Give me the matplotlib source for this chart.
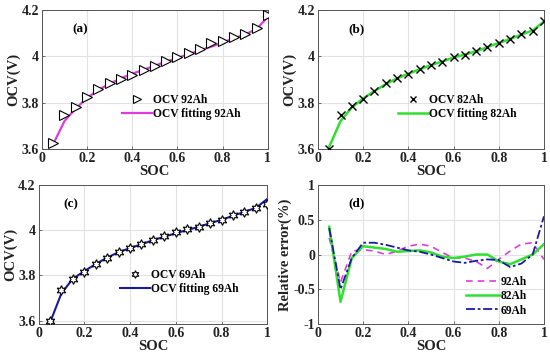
"""
OCV vs SOC for three battery capacities, plus relative fitting error
"""

import matplotlib
matplotlib.use("Agg")
import matplotlib.pyplot as plt

plt.rcParams["font.family"] = ["Liberation Serif", "DejaVu Serif"]
plt.rcParams["font.weight"] = "bold"

soc = [0.05, 0.10, 0.15, 0.20, 0.25, 0.30, 0.35, 0.40, 0.45, 0.50,
       0.55, 0.60, 0.65, 0.70, 0.75, 0.80, 0.85, 0.90, 0.95, 1.00]

ocv_92 = [3.624, 3.747, 3.783, 3.826, 3.858, 3.883, 3.902, 3.921, 3.941, 3.958,
          3.980, 3.996, 4.016, 4.032, 4.056, 4.068, 4.082, 4.096, 4.121, 4.178]
fit_92 = [3.620, 3.720, 3.775, 3.820, 3.855, 3.882, 3.905, 3.925, 3.942, 3.960,
          3.977, 3.993, 4.010, 4.026, 4.042, 4.060, 4.078, 4.095, 4.118, 4.170]

ocv_82 = [3.600, 3.747, 3.786, 3.816, 3.852, 3.883, 3.906, 3.924, 3.944, 3.963,
          3.977, 3.996, 4.006, 4.023, 4.039, 4.059, 4.075, 4.095, 4.111, 4.154]
fit_82 = [3.610, 3.720, 3.780, 3.818, 3.850, 3.880, 3.905, 3.925, 3.944, 3.962,
          3.978, 3.995, 4.008, 4.022, 4.040, 4.058, 4.075, 4.094, 4.112, 4.150]

ocv_69 = [3.597, 3.737, 3.784, 3.816, 3.850, 3.876, 3.904, 3.921, 3.938, 3.957,
          3.972, 3.990, 4.004, 4.012, 4.029, 4.046, 4.066, 4.081, 4.096, 4.115]
fit_69 = [3.590, 3.720, 3.785, 3.818, 3.850, 3.878, 3.902, 3.920, 3.937, 3.955,
          3.970, 3.986, 4.000, 4.014, 4.030, 4.045, 4.063, 4.080, 4.098, 4.137]

err_92 = [0.24, -0.40, 0.05, 0.07, 0.05, 0.00, 0.05, 0.12, 0.15, 0.12,
          0.03, -0.05, -0.05, -0.10, -0.20, -0.07, 0.05, 0.15, 0.17, -0.07]
err_82 = [0.40, -0.68, -0.05, 0.12, 0.10, 0.08, 0.04, 0.05, 0.06, 0.03,
          -0.03, -0.05, -0.03, 0.00, 0.00, -0.10, -0.14, -0.07, 0.00, 0.15]
err_69 = [0.38, -0.50, -0.05, 0.17, 0.17, 0.14, 0.10, 0.06, 0.04, 0.00,
          -0.05, -0.10, -0.12, -0.09, -0.07, -0.08, -0.18, -0.13, 0.00, 0.55]

MAGENTA = "#dd3ddd"
GREEN = "#2fe02f"
NAVY = "#1a1a9e"

fig = plt.figure(figsize=(5.5, 3.59), dpi=100)
ax_a = fig.add_axes([0.076, 0.585, 0.411, 0.387])
ax_b = fig.add_axes([0.578, 0.585, 0.411, 0.387])
ax_c = fig.add_axes([0.070, 0.0975, 0.416, 0.388])
ax_d = fig.add_axes([0.578, 0.0975, 0.411, 0.387])

LEG = {"weight": "bold", "size": 8.3}


def style(ax, ylim, yticks, yticklabels, ylabel):
    ax.set_xlim(0, 1)
    ax.set_ylim(*ylim)
    ax.set_xticks([0, 0.2, 0.4, 0.6, 0.8, 1])
    ax.set_xticklabels(["0", "0.2", "0.4", "0.6", "0.8", "1"])
    ax.set_yticks(yticks)
    ax.set_yticklabels(yticklabels)
    ax.grid(True, color="#e2e2e2", linewidth=0.8)
    ax.set_axisbelow(True)
    ax.tick_params(direction="in", length=2.5, width=0.6, labelsize=10, pad=2,
                   color="#555555", labelcolor="#222222")
    for sp in ax.spines.values():
        sp.set_linewidth(0.7)
        sp.set_color("#555555")
    ax.set_xlabel("SOC", fontsize=10.5, fontweight="bold", labelpad=0,
                  color="#222222")
    ax.set_ylabel(ylabel, fontsize=10.5, fontweight="bold", labelpad=1,
                  color="#222222")


ocv_ticks = [3.6, 3.8, 4.0, 4.2]
ocv_labels = ["3.6", "3.8", "4", "4.2"]

# (a)
ax_a.plot(soc, fit_92, color=MAGENTA, lw=1.6, zorder=2)
ax_a.plot(soc, ocv_92, ">", ms=6.5, mfc="white", mec="black", mew=0.8,
          linestyle="none", zorder=3)
style(ax_a, (3.6, 4.2), ocv_ticks, ocv_labels, "OCV(V)")
ax_a.text(0.17, 0.86, "(a)", transform=ax_a.transAxes, fontsize=9.5,
          fontweight="bold", ha="center", va="center")
ha, = ax_a.plot([], [], ">", ms=5.5, mfc="white", mec="black", mew=0.8, linestyle="none")
hl, = ax_a.plot([], [], color=MAGENTA, lw=1.6)
ax_a.legend([ha, hl], ["OCV 92Ah", "OCV fitting 92Ah"], loc="center left",
            bbox_to_anchor=(0.33, 0.30), frameon=False,
            handlelength=2.6, handletextpad=0.1, labelspacing=0.15, borderpad=0,
            prop=LEG)

# (b)
ax_b.plot(soc, fit_82, color=GREEN, lw=1.8, zorder=2)
ax_b.plot(soc, ocv_82, "x", ms=5.5, mec="black", mew=1.0, linestyle="none", zorder=3)
style(ax_b, (3.6, 4.2), ocv_ticks, ocv_labels, "OCV(V)")
ax_b.text(0.17, 0.86, "(b)", transform=ax_b.transAxes, fontsize=9.5,
          fontweight="bold", ha="center", va="center")
hb, = ax_b.plot([], [], "x", ms=5, mec="black", mew=1.0, linestyle="none")
hbl, = ax_b.plot([], [], color=GREEN, lw=1.8)
ax_b.legend([hb, hbl], ["OCV 82Ah", "OCV fitting 82Ah"], loc="center left",
            bbox_to_anchor=(0.33, 0.30), frameon=False,
            handlelength=2.6, handletextpad=0.1, labelspacing=0.15, borderpad=0,
            prop=LEG)

# (c)
hexagram = (6, 1, 0)
ax_c.plot(soc, fit_69, color=NAVY, lw=1.5, zorder=2)
ax_c.plot(soc, ocv_69, marker=hexagram, ms=7, mfc="white", mec="black",
          mew=0.8, linestyle="none", zorder=3)
style(ax_c, (3.585, 4.2), ocv_ticks, ocv_labels, "OCV(V)")
ax_c.text(0.14, 0.86, "(c)", transform=ax_c.transAxes, fontsize=9.5,
          fontweight="bold", ha="center", va="center")
hc, = ax_c.plot([], [], marker=hexagram, ms=5.5, mfc="white", mec="black",
                mew=0.8, linestyle="none")
hcl, = ax_c.plot([], [], color=NAVY, lw=1.5)
ax_c.legend([hc, hcl], ["OCV 69Ah", "OCV fitting 69Ah"], loc="center left",
            bbox_to_anchor=(0.33, 0.30), frameon=False,
            handlelength=2.6, handletextpad=0.1, labelspacing=0.15, borderpad=0,
            prop=LEG)

# (d)
ax_d.plot(soc, err_92, color=MAGENTA, lw=1.2, linestyle=(0, (4, 3)), label="92Ah")
ax_d.plot(soc, err_82, color=GREEN, lw=1.8, label="82Ah")
ax_d.plot(soc, err_69, color=NAVY, lw=1.3, linestyle=(0, (5, 1.5, 1.5, 1.5)),
          label="69Ah")
style(ax_d, (-1, 1), [-1, -0.5, 0, 0.5, 1], ["-1", "-0.5", "0", "0.5", "1"],
      "Relative error(%)")
ax_d.text(0.17, 0.87, "(d)", transform=ax_d.transAxes, fontsize=9.5,
          fontweight="bold", ha="center", va="center")
ax_d.legend(loc="center left", bbox_to_anchor=(0.63, 0.20), frameon=False,
            handlelength=2.9, handletextpad=0.1, labelspacing=0.2, borderpad=0,
            prop=LEG)

fig.savefig("out.png", dpi=100)
